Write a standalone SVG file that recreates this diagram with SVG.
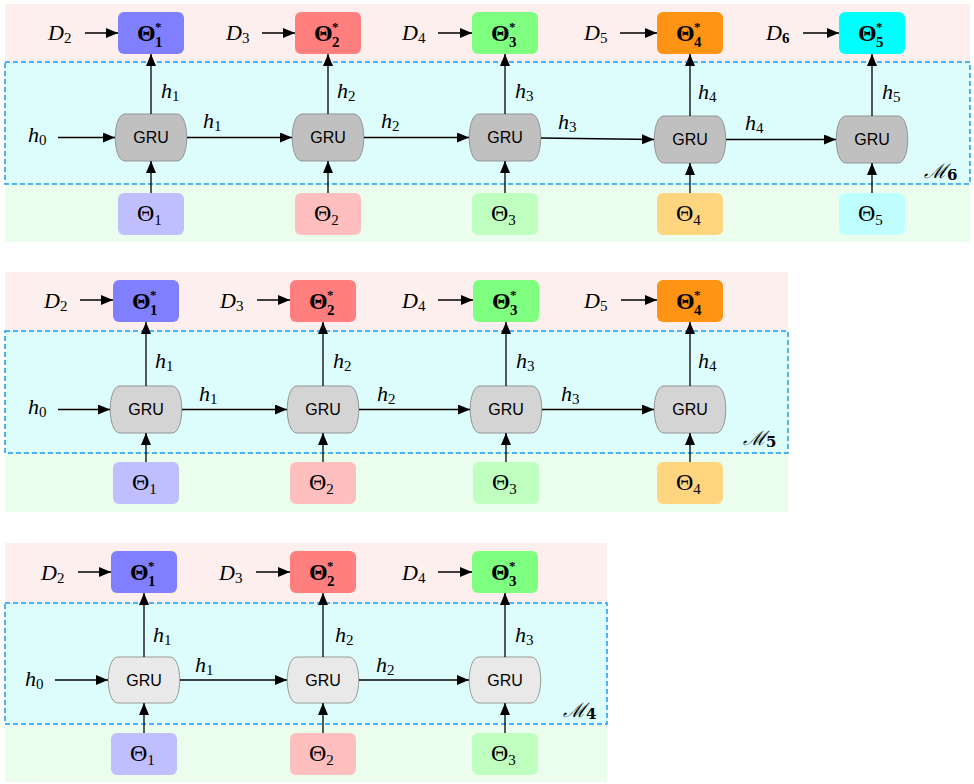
<svg xmlns="http://www.w3.org/2000/svg" width="974" height="784" viewBox="0 0 974 784">
<defs>
<marker id="ah" markerUnits="userSpaceOnUse" markerWidth="12" markerHeight="10" refX="12" refY="5" orient="auto"><path d="M0,0 L12,5 L0,10 z" fill="#000"/></marker>
<style>
.pink{fill:#fdefed}
.green{fill:#ebfdec}
.cyan{fill:#ddfdfd;stroke:#1a9af5;stroke-width:1.5;stroke-dasharray:5 3}
.g1{fill:#c0c0c0;stroke:#959595;stroke-width:1}
.g2{fill:#d4d4d4;stroke:#959595;stroke-width:1}
.g3{fill:#e9e9e9;stroke:#9a9a9a;stroke-width:1}
.gt{font-family:"Liberation Sans",Arial,sans-serif;font-size:16px;text-anchor:middle;fill:#000}
.th{font-family:"Liberation Serif","DejaVu Serif",serif;font-size:24px;fill:#000}
.ths{font-family:"Liberation Serif","DejaVu Serif",serif;font-size:24px;font-weight:bold;fill:#000}
.it{font-family:"Liberation Serif","DejaVu Serif",serif;font-size:22px;font-style:italic;fill:#000}
.sub{font-size:15px;font-style:normal}
.st{font-size:13px;font-style:normal}
.cal{font-family:"DejaVu Serif",serif;font-size:20px;font-style:italic;fill:#000}
.c1{fill:#7f7fff}.c2{fill:#ff7f7f}.c3{fill:#7fff7f}.c4{fill:#ff9414}.c5{fill:#00ffff}
.l1{fill:#bfbfff}.l2{fill:#ffbfbf}.l3{fill:#bfffbf}.l4{fill:#ffd580}.l5{fill:#bfffff}
.conn line{stroke:#000;stroke-width:1.3;marker-end:url(#ah)}
</style>
</defs>

<!-- ================= Panel 1 (M6) ================= -->
<g id="panel1-bg">
<rect class="pink" x="5" y="4" width="965" height="58"/>
<rect class="green" x="5" y="184" width="965" height="58"/>
<rect class="cyan" x="5" y="62" width="965" height="122"/>
</g>

<g id="p1-ts1"><rect class="c1" x="118" y="12" width="66" height="42" rx="6"/><text class="ths" x="137" y="41">Θ<tspan class="st" x="155" y="31">*</tspan><tspan class="sub" x="155" y="47">1</tspan></text></g>
<g id="p1-ts2"><rect class="c2" x="295" y="12" width="66" height="42" rx="6"/><text class="ths" x="314" y="41">Θ<tspan class="st" x="332" y="31">*</tspan><tspan class="sub" x="332" y="47">2</tspan></text></g>
<g id="p1-ts3"><rect class="c3" x="472" y="12" width="66" height="42" rx="6"/><text class="ths" x="491" y="41">Θ<tspan class="st" x="509" y="31">*</tspan><tspan class="sub" x="509" y="47">3</tspan></text></g>
<g id="p1-ts4"><rect class="c4" x="657" y="12" width="66" height="42" rx="6"/><text class="ths" x="676" y="41">Θ<tspan class="st" x="694" y="31">*</tspan><tspan class="sub" x="694" y="47">4</tspan></text></g>
<g id="p1-ts5"><rect class="c5" x="839" y="12" width="66" height="42" rx="6"/><text class="ths" x="858" y="41">Θ<tspan class="st" x="876" y="31">*</tspan><tspan class="sub" x="876" y="47">5</tspan></text></g>

<g id="p1-gru1"><path class="g1" d="M125,114 H177 C190,114 190,161 177,161 H125 C112,161 112,114 125,114 Z"/><text class="gt" x="151" y="143">GRU</text></g>
<g id="p1-gru2"><path class="g1" d="M302,114 H354 C367,114 367,161 354,161 H302 C289,161 289,114 302,114 Z"/><text class="gt" x="328" y="143">GRU</text></g>
<g id="p1-gru3"><path class="g1" d="M479,114 H531 C544,114 544,161 531,161 H479 C466,161 466,114 479,114 Z"/><text class="gt" x="505" y="143">GRU</text></g>
<g id="p1-gru4"><path class="g1" d="M664,116 H716 C729,116 729,163 716,163 H664 C651,163 651,116 664,116 Z"/><text class="gt" x="690" y="145">GRU</text></g>
<g id="p1-gru5"><path class="g1" d="M846,116 H898 C911,116 911,163 898,163 H846 C833,163 833,116 846,116 Z"/><text class="gt" x="872" y="145">GRU</text></g>

<g id="p1-t1"><rect class="l1" x="118" y="193" width="66" height="42" rx="6"/><text class="th" x="137" y="221">Θ<tspan class="sub" dy="4">1</tspan></text></g>
<g id="p1-t2"><rect class="l2" x="295" y="193" width="66" height="42" rx="6"/><text class="th" x="314" y="221">Θ<tspan class="sub" dy="4">2</tspan></text></g>
<g id="p1-t3"><rect class="l3" x="472" y="193" width="66" height="42" rx="6"/><text class="th" x="491" y="221">Θ<tspan class="sub" dy="4">3</tspan></text></g>
<g id="p1-t4"><rect class="l4" x="657" y="193" width="66" height="42" rx="6"/><text class="th" x="676" y="221">Θ<tspan class="sub" dy="4">4</tspan></text></g>
<g id="p1-t5"><rect class="l5" x="839" y="193" width="66" height="42" rx="6"/><text class="th" x="858" y="221">Θ<tspan class="sub" dy="4">5</tspan></text></g>

<g id="p1-connectors" class="conn">
<line x1="58" y1="137.5" x2="115" y2="137.5"/>
<line x1="187" y1="137.5" x2="292" y2="137.5"/>
<line x1="364" y1="137.5" x2="469" y2="137.5"/>
<line x1="541" y1="138" x2="654" y2="139.5"/>
<line x1="726" y1="139.5" x2="836" y2="139.5"/>
<line x1="151" y1="114" x2="151" y2="54"/>
<line x1="328" y1="114" x2="328" y2="54"/>
<line x1="505" y1="114" x2="505" y2="54"/>
<line x1="690" y1="116" x2="690" y2="54"/>
<line x1="872" y1="116" x2="872" y2="54"/>
<line x1="151" y1="193" x2="151" y2="161"/>
<line x1="328" y1="193" x2="328" y2="161"/>
<line x1="505" y1="193" x2="505" y2="161"/>
<line x1="690" y1="193" x2="690" y2="163"/>
<line x1="872" y1="193" x2="872" y2="163"/>
<line x1="85" y1="33" x2="118" y2="33"/>
<line x1="262" y1="33" x2="295" y2="33"/>
<line x1="438" y1="33" x2="472" y2="33"/>
<line x1="620" y1="33" x2="657" y2="33"/>
<line x1="803" y1="33" x2="839" y2="33"/>
</g>
<g id="p1-labels">
<text class="it" x="48" y="40">D<tspan class="sub" dy="3">2</tspan></text>
<text class="it" x="226" y="40">D<tspan class="sub" dy="3">3</tspan></text>
<text class="it" x="402" y="40">D<tspan class="sub" dy="3">4</tspan></text>
<text class="it" x="584" y="40">D<tspan class="sub" dy="3">5</tspan></text>
<text class="it" x="766" y="40">D<tspan class="sub" dy="3" font-weight="bold">6</tspan></text>
<text class="it" x="28" y="142">h<tspan class="sub" dy="3">0</tspan></text>
<text class="it" x="161" y="98">h<tspan class="sub" dy="3">1</tspan></text>
<text class="it" x="337" y="98">h<tspan class="sub" dy="3">2</tspan></text>
<text class="it" x="515" y="98">h<tspan class="sub" dy="3">3</tspan></text>
<text class="it" x="698" y="99">h<tspan class="sub" dy="3">4</tspan></text>
<text class="it" x="882" y="99">h<tspan class="sub" dy="3">5</tspan></text>
<text class="it" x="203" y="128">h<tspan class="sub" dy="3">1</tspan></text>
<text class="it" x="381" y="128">h<tspan class="sub" dy="3">2</tspan></text>
<text class="it" x="558" y="129">h<tspan class="sub" dy="3">3</tspan></text>
<text class="it" x="745" y="130">h<tspan class="sub" dy="3">4</tspan></text>
<text class="cal" x="924" y="178">ℳ<tspan class="sub" dy="2" font-weight="bold">6</tspan></text>
</g>

<!-- ================= Panel 2 (M5) ================= -->
<g id="panel2-bg">
<rect class="pink" x="5" y="272" width="783" height="59"/>
<rect class="green" x="5" y="453" width="783" height="59"/>
<rect class="cyan" x="5" y="331" width="783" height="122"/>
</g>

<g id="p2-ts1"><rect class="c1" x="113" y="280" width="66" height="42" rx="6"/><text class="ths" x="132" y="309">Θ<tspan class="st" x="150" y="299">*</tspan><tspan class="sub" x="150" y="315">1</tspan></text></g>
<g id="p2-ts2"><rect class="c2" x="290" y="280" width="66" height="42" rx="6"/><text class="ths" x="309" y="309">Θ<tspan class="st" x="327" y="299">*</tspan><tspan class="sub" x="327" y="315">2</tspan></text></g>
<g id="p2-ts3"><rect class="c3" x="473" y="280" width="66" height="42" rx="6"/><text class="ths" x="492" y="309">Θ<tspan class="st" x="510" y="299">*</tspan><tspan class="sub" x="510" y="315">3</tspan></text></g>
<g id="p2-ts4"><rect class="c4" x="657" y="280" width="66" height="42" rx="6"/><text class="ths" x="676" y="309">Θ<tspan class="st" x="694" y="299">*</tspan><tspan class="sub" x="694" y="315">4</tspan></text></g>

<g id="p2-gru1"><path class="g2" d="M120,386 H172 C185,386 185,433 172,433 H120 C107,433 107,386 120,386 Z"/><text class="gt" x="146" y="415">GRU</text></g>
<g id="p2-gru2"><path class="g2" d="M297,386 H349 C362,386 362,433 349,433 H297 C284,433 284,386 297,386 Z"/><text class="gt" x="323" y="415">GRU</text></g>
<g id="p2-gru3"><path class="g2" d="M480,386 H532 C545,386 545,433 532,433 H480 C467,433 467,386 480,386 Z"/><text class="gt" x="506" y="415">GRU</text></g>
<g id="p2-gru4"><path class="g2" d="M664,386 H716 C729,386 729,433 716,433 H664 C651,433 651,386 664,386 Z"/><text class="gt" x="690" y="415">GRU</text></g>

<g id="p2-t1"><rect class="l1" x="113" y="462" width="66" height="42" rx="6"/><text class="th" x="132" y="490">Θ<tspan class="sub" dy="4">1</tspan></text></g>
<g id="p2-t2"><rect class="l2" x="290" y="462" width="66" height="42" rx="6"/><text class="th" x="309" y="490">Θ<tspan class="sub" dy="4">2</tspan></text></g>
<g id="p2-t3"><rect class="l3" x="473" y="462" width="66" height="42" rx="6"/><text class="th" x="492" y="490">Θ<tspan class="sub" dy="4">3</tspan></text></g>
<g id="p2-t4"><rect class="l4" x="657" y="462" width="66" height="42" rx="6"/><text class="th" x="676" y="490">Θ<tspan class="sub" dy="4">4</tspan></text></g>

<g id="p2-connectors" class="conn">
<line x1="58" y1="409.5" x2="110" y2="409.5"/>
<line x1="182" y1="409.5" x2="287" y2="409.5"/>
<line x1="359" y1="409.5" x2="470" y2="409.5"/>
<line x1="542" y1="409.5" x2="654" y2="409.5"/>
<line x1="146" y1="386" x2="146" y2="322"/>
<line x1="323" y1="386" x2="323" y2="322"/>
<line x1="506" y1="386" x2="506" y2="322"/>
<line x1="690" y1="386" x2="690" y2="322"/>
<line x1="146" y1="462" x2="146" y2="433"/>
<line x1="323" y1="462" x2="323" y2="433"/>
<line x1="506" y1="462" x2="506" y2="433"/>
<line x1="690" y1="462" x2="690" y2="433"/>
<line x1="80" y1="300" x2="113" y2="300"/>
<line x1="257" y1="300" x2="290" y2="300"/>
<line x1="438" y1="300" x2="473" y2="300"/>
<line x1="621" y1="300" x2="657" y2="300"/>
</g>
<g id="p2-labels">
<text class="it" x="44" y="308">D<tspan class="sub" dy="3">2</tspan></text>
<text class="it" x="220" y="308">D<tspan class="sub" dy="3">3</tspan></text>
<text class="it" x="402" y="308">D<tspan class="sub" dy="3">4</tspan></text>
<text class="it" x="584" y="308">D<tspan class="sub" dy="3">5</tspan></text>
<text class="it" x="28" y="414">h<tspan class="sub" dy="3">0</tspan></text>
<text class="it" x="155" y="368">h<tspan class="sub" dy="3">1</tspan></text>
<text class="it" x="333" y="368">h<tspan class="sub" dy="3">2</tspan></text>
<text class="it" x="516" y="368">h<tspan class="sub" dy="3">3</tspan></text>
<text class="it" x="698" y="368">h<tspan class="sub" dy="3">4</tspan></text>
<text class="it" x="199" y="401">h<tspan class="sub" dy="3">1</tspan></text>
<text class="it" x="377" y="401">h<tspan class="sub" dy="3">2</tspan></text>
<text class="it" x="561" y="401">h<tspan class="sub" dy="3">3</tspan></text>
<text class="cal" x="743" y="445">ℳ<tspan class="sub" dy="2" font-weight="bold">5</tspan></text>
</g>

<!-- ================= Panel 3 (M4) ================= -->
<g id="panel3-bg">
<rect class="pink" x="5" y="543" width="602" height="60"/>
<rect class="green" x="5" y="724" width="602" height="58"/>
<rect class="cyan" x="5" y="603" width="602" height="121"/>
</g>

<g id="p3-ts1"><rect class="c1" x="111" y="551" width="66" height="42" rx="6"/><text class="ths" x="130" y="580">Θ<tspan class="st" x="148" y="570">*</tspan><tspan class="sub" x="148" y="586">1</tspan></text></g>
<g id="p3-ts2"><rect class="c2" x="290" y="551" width="66" height="42" rx="6"/><text class="ths" x="309" y="580">Θ<tspan class="st" x="327" y="570">*</tspan><tspan class="sub" x="327" y="586">2</tspan></text></g>
<g id="p3-ts3"><rect class="c3" x="472" y="551" width="66" height="42" rx="6"/><text class="ths" x="491" y="580">Θ<tspan class="st" x="509" y="570">*</tspan><tspan class="sub" x="509" y="586">3</tspan></text></g>

<g id="p3-gru1"><path class="g3" d="M118,657 H170 C183,657 183,703 170,703 H118 C105,703 105,657 118,657 Z"/><text class="gt" x="144" y="686">GRU</text></g>
<g id="p3-gru2"><path class="g3" d="M297,657 H349 C362,657 362,703 349,703 H297 C284,703 284,657 297,657 Z"/><text class="gt" x="323" y="686">GRU</text></g>
<g id="p3-gru3"><path class="g3" d="M479,657 H531 C544,657 544,703 531,703 H479 C466,703 466,657 479,657 Z"/><text class="gt" x="505" y="686">GRU</text></g>

<g id="p3-t1"><rect class="l1" x="111" y="733" width="66" height="42" rx="6"/><text class="th" x="130" y="761">Θ<tspan class="sub" dy="4">1</tspan></text></g>
<g id="p3-t2"><rect class="l2" x="290" y="733" width="66" height="42" rx="6"/><text class="th" x="309" y="761">Θ<tspan class="sub" dy="4">2</tspan></text></g>
<g id="p3-t3"><rect class="l3" x="472" y="733" width="66" height="42" rx="6"/><text class="th" x="491" y="761">Θ<tspan class="sub" dy="4">3</tspan></text></g>

<g id="p3-connectors" class="conn">
<line x1="55" y1="680" x2="108" y2="680"/>
<line x1="180" y1="680" x2="287" y2="680"/>
<line x1="359" y1="680" x2="469" y2="680"/>
<line x1="144" y1="657" x2="144" y2="593"/>
<line x1="323" y1="657" x2="323" y2="593"/>
<line x1="505" y1="657" x2="505" y2="593"/>
<line x1="144" y1="733" x2="144" y2="703"/>
<line x1="323" y1="733" x2="323" y2="703"/>
<line x1="505" y1="733" x2="505" y2="703"/>
<line x1="78" y1="572" x2="111" y2="572"/>
<line x1="256" y1="572" x2="290" y2="572"/>
<line x1="438" y1="572" x2="472" y2="572"/>
</g>
<g id="p3-labels">
<text class="it" x="41" y="580">D<tspan class="sub" dy="3">2</tspan></text>
<text class="it" x="219" y="580">D<tspan class="sub" dy="3">3</tspan></text>
<text class="it" x="402" y="580">D<tspan class="sub" dy="3">4</tspan></text>
<text class="it" x="25" y="686">h<tspan class="sub" dy="3">0</tspan></text>
<text class="it" x="153" y="642">h<tspan class="sub" dy="3">1</tspan></text>
<text class="it" x="335" y="642">h<tspan class="sub" dy="3">2</tspan></text>
<text class="it" x="515" y="642">h<tspan class="sub" dy="3">3</tspan></text>
<text class="it" x="195" y="672">h<tspan class="sub" dy="3">1</tspan></text>
<text class="it" x="376" y="672">h<tspan class="sub" dy="3">2</tspan></text>
<text class="cal" x="563" y="717">ℳ<tspan class="sub" dy="2" font-weight="bold">4</tspan></text>
</g>
</svg>
